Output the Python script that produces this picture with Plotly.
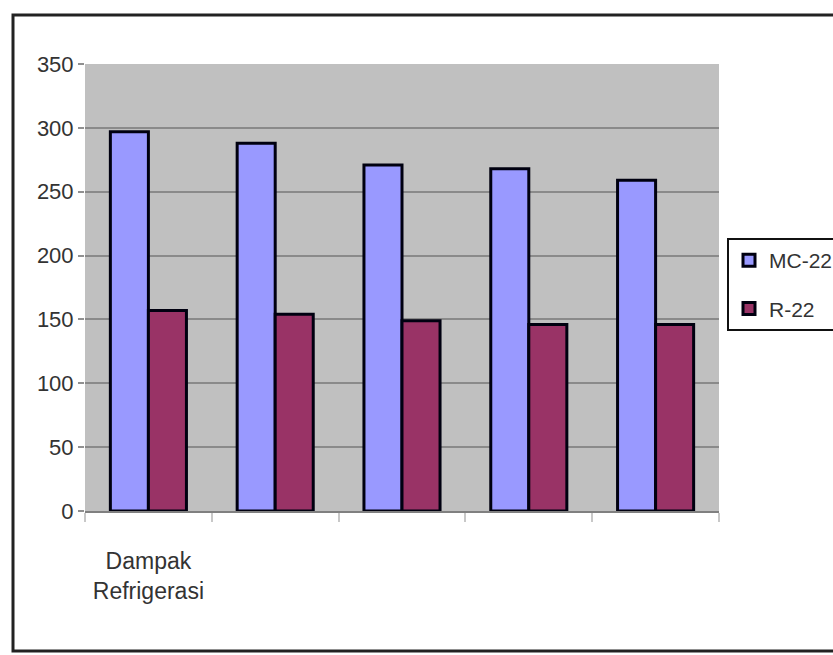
import plotly.graph_objects as go

categories = ["Dampak<br>Refrigerasi", " ", "  ", "   ", "    "]
series_names = ["MC-22", "R-22"]
mc22_values = [297, 288, 271, 268, 259]
r22_values = [157, 154, 149, 146, 146]
y_tick_values = [0, 50, 100, 150, 200, 250, 300, 350]

FONT = "Liberation Sans, Arial, sans-serif"

W, H = 833, 655
L, R, T, B = 85, 114, 64, 144
pw, ph = W - L - R, H - T - B


def px_x(p):
    return (p - L) / pw


def px_y(p):
    return (H - B - p) / ph


fig = go.Figure()
fig.add_trace(go.Bar(
    x=categories, y=mc22_values, name=series_names[0], legendgroup="a",
    marker=dict(color="#9999ff", line=dict(color="#000010", width=3)),
))
fig.add_trace(go.Bar(
    x=categories, y=r22_values, name=series_names[1], legendgroup="b",
    marker=dict(color="#993366", line=dict(color="#000010", width=3)),
))

fig.update_layout(
    width=W, height=H,
    margin=dict(l=L, r=R, t=T, b=B, autoexpand=False),
    paper_bgcolor="white",
    plot_bgcolor="#c0c0c0",
    barmode="group", bargap=0.4, bargroupgap=0,
    font=dict(family=FONT, size=22, color="#333333"),
    showlegend=True,
    legend=dict(
        x=px_x(727), y=px_y(238), xanchor="left", yanchor="top",
        bgcolor="white", bordercolor="#111111", borderwidth=2,
        font=dict(family=FONT, size=21, color="#333333"),
        traceorder="grouped", tracegroupgap=18,
        entrywidth=110, entrywidthmode="pixels",
    ),
    xaxis=dict(
        type="category", tickson="boundaries", ticks="outside", ticklen=9,
        tickcolor="#c8c8c8", tickwidth=2, tickangle=0,
        showline=True, linecolor="#808080", linewidth=2,
        showgrid=False, ticklabelstandoff=28,
        tickfont=dict(family=FONT, size=23, color="#333333"),
    ),
    yaxis=dict(
        range=[0, 350], tickvals=y_tick_values, ticks="outside", ticklen=6,
        tickcolor="#909090", tickwidth=2,
        showgrid=True, gridcolor="#8a8a8a", gridwidth=2,
        zeroline=False, showline=False,
        tickfont=dict(family=FONT, size=22, color="#333333"),
    ),
    shapes=[dict(
        type="rect", xref="paper", yref="paper",
        x0=px_x(13), x1=px_x(845), y0=px_y(651), y1=px_y(15),
        line=dict(color="#222222", width=3), fillcolor="rgba(0,0,0,0)",
        layer="above",
    )],
)

fig.write_html("out.html")
